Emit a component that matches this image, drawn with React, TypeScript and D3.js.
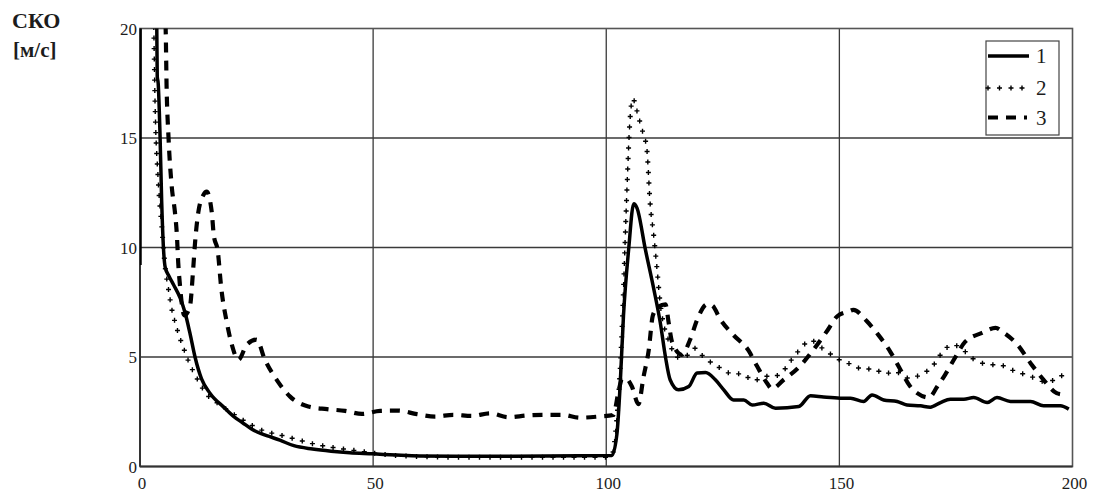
import React, { useEffect, useRef } from "react";
import * as d3 from "d3";

// axis ticks
const xTicks = [0, 50, 100, 150, 200];
const yTicks = [0, 5, 10, 15, 20];
const legendNames = ["1", "2", "3"];

// series 1 (solid)
const series1: [number, number][] = [
  [0, 9.2], [0.2, 80], [3.5, 21], [3.6, 20], [3.7, 17.8], [3.9, 17.5], [4.3, 15.1],
  [4.65, 12.1], [5.0, 10.1], [5.4, 9.1], [6.2, 8.7], [7.2, 8.3], [8.6, 7.7],
  [9.7, 7.0], [10.7, 6.1], [11.8, 5.0], [13.2, 4.0], [15, 3.35], [18, 2.7],
  [20, 2.3], [22, 2.0], [24, 1.7], [26, 1.5], [28, 1.35], [30, 1.2], [33, 0.95],
  [37, 0.8], [41, 0.7], [45, 0.63], [50, 0.58], [55, 0.52], [60, 0.48], [80, 0.47],
  [101.2, 0.5], [102.3, 1.5], [103, 3.8], [103.7, 6.9], [104.8, 9.9], [105.9, 12.0],
  [106.6, 11.8], [108.4, 9.9], [110.2, 8.1], [111.6, 6.55], [112.7, 5.0],
  [113.7, 3.96], [115.5, 3.5], [117.7, 3.65], [119.5, 4.27], [121.3, 4.29],
  [123.4, 3.96], [125.2, 3.5], [127.3, 3.04], [129.5, 3.04], [131.3, 2.81],
  [133.8, 2.89], [136.3, 2.66], [141.3, 2.74], [143.8, 3.23], [146.6, 3.17],
  [150.2, 3.12], [152.4, 3.12], [155.2, 2.97], [157, 3.27], [159.5, 3.04],
  [162.4, 2.97], [164.5, 2.81], [167.4, 2.77], [169.5, 2.71], [171.7, 2.92],
  [173.8, 3.07], [176.7, 3.07], [178.8, 3.15], [181.7, 2.92], [183.8, 3.15],
  [186.7, 2.97], [191, 2.97], [193.8, 2.77], [197.4, 2.77], [199.2, 2.62],
];

// series 2 (dotted)
const series2: [number, number][] = [
  [2.9, 21], [3.2, 16.9], [3.9, 13.1], [4.65, 11.0], [5.4, 9.1], [6.1, 8.1],
  [6.8, 7.2], [7.5, 6.6], [8.2, 6.1], [9, 5.6], [9.7, 5.2], [10.7, 4.65],
  [11.8, 4.2], [12.9, 3.75], [14.7, 3.2], [17, 2.85], [20, 2.4], [23, 2.0],
  [26, 1.67], [30.8, 1.4], [37.9, 1.0], [46.5, 0.72], [55, 0.5], [70, 0.42],
  [100, 0.42], [101.2, 0.5], [102.2, 2.0], [103, 4.5], [103.6, 7.5], [104, 10],
  [104.5, 13], [105, 15.5], [105.7, 16.8], [106.5, 16.3], [107.5, 15.5],
  [108.7, 14.5], [109.4, 12.05], [110.2, 10.5], [110.9, 9.0], [111.5, 7.6],
  [112.5, 6.3], [113.7, 5.6], [114.4, 5.2], [115.9, 4.95], [117.5, 5.1],
  [119.1, 5.4], [120.9, 5.0], [122.7, 4.72], [124.8, 4.45], [127, 4.23],
  [129.1, 4.23], [131.6, 3.91], [133.8, 4.11], [136.3, 4.14], [137.7, 4.29],
  [139.3, 4.75], [141.6, 5.36], [143.8, 5.76], [146.6, 5.36], [150.2, 4.85],
  [152.7, 4.65], [155, 4.45], [157.4, 4.45], [159.7, 4.23], [162, 4.34],
  [164.4, 4.04], [166.5, 4.11], [168.7, 4.34], [170.5, 4.72], [172, 5.2],
  [174.4, 5.56], [176.7, 5.3], [178.5, 4.95], [180.6, 4.72], [182.9, 4.65],
  [185.1, 4.6], [187.4, 4.37], [189.4, 4.23], [191.7, 4.06], [193.8, 3.88],
  [196.4, 3.96], [198.7, 4.39],
];

// series 3 (dashed)
const series3: [number, number][] = [
  [5.2, 21], [5.5, 20], [5.7, 17.4], [6.1, 15.1], [6.8, 12.8], [7.5, 11.6],
  [7.9, 10.6], [8.2, 9.3], [8.6, 8.2], [9.5, 6.9], [10.7, 7.3], [11.4, 9.0],
  [11.8, 10.2], [12.5, 11.6], [13.6, 12.4], [14.3, 12.55], [15.4, 11.6],
  [15.8, 10.6], [16.7, 9.8], [17.4, 8.2], [18.6, 6.6], [19.7, 5.56], [21.1, 4.87],
  [22.9, 5.56], [25.0, 5.79], [26.8, 4.87], [29.5, 3.9], [32.2, 3.19],
  [36.1, 2.74], [40.1, 2.62], [44, 2.54], [47.6, 2.4], [51.5, 2.54], [55.4, 2.55],
  [59.4, 2.39], [63.3, 2.28], [67.2, 2.36], [71.2, 2.31], [75.1, 2.43], [79, 2.25],
  [83, 2.33], [86.9, 2.36], [90.5, 2.36], [94.4, 2.23], [98.3, 2.28],
  [101.5, 2.35], [102.7, 3.5], [103.4, 4.0], [104.3, 4.0], [105.5, 3.65],
  [106.9, 2.85], [108, 4.1], [109.1, 5.3], [110, 6.9], [111.2, 7.3], [112.7, 7.4],
  [113.4, 6.55], [114.1, 5.7], [116.2, 5.1], [118, 5.8], [119.5, 6.7],
  [121.6, 7.4], [122.7, 7.35], [124.5, 6.7], [127.3, 6.0], [130.5, 5.3],
  [132.3, 4.6], [134.5, 3.8], [135.5, 3.55], [138, 3.95], [141.6, 4.6],
  [144.5, 5.35], [147.4, 6.2], [149.5, 6.85], [152, 7.08], [153, 7.15],
  [155.9, 6.63], [158.4, 6.0], [160.9, 5.25], [163.1, 4.42], [165.2, 3.65],
  [166.7, 3.35], [169.2, 3.15], [171, 3.65], [172.7, 4.2], [174.9, 5.0],
  [177, 5.7], [180.6, 6.1], [183.5, 6.33], [185.3, 6.1], [188.2, 5.56],
  [191, 4.72], [193.8, 3.96], [196.6, 3.35], [197.5, 3.3],
];

const W = 1096;
const H = 496;
const FONT = "'Liberation Serif', 'Times New Roman', serif";
const INK = "#1c1c1c";

export default function App() {
  const ref = useRef<SVGSVGElement>(null);

  useEffect(() => {
    const svg = d3.select(ref.current);
    svg.selectAll("*").remove();

    const x = d3.scaleLinear().domain([0, 200]).range([140, 1072.5]);
    const y = d3.scaleLinear().domain([0, 20]).range([466.5, 28.5]);

    svg.append("defs").append("clipPath").attr("id", "plot-clip")
      .append("rect")
      .attr("x", x(0)).attr("y", y(20))
      .attr("width", x(200) - x(0)).attr("height", y(0) - y(20));

    // grid
    const grid = svg.append("g");
    grid.selectAll("line.v")
      .data(xTicks.slice(1, -1))
      .enter().append("line")
      .attr("x1", d => x(d)).attr("x2", d => x(d))
      .attr("y1", y(20)).attr("y2", y(0))
      .attr("stroke", "#3a3a3a").attr("stroke-width", 1.3);
    grid.selectAll("line.h")
      .data(yTicks.slice(1, -1))
      .enter().append("line")
      .attr("x1", x(0)).attr("x2", x(200))
      .attr("y1", d => y(d)).attr("y2", d => y(d))
      .attr("stroke", "#3a3a3a").attr("stroke-width", 1.3);

    // frame
    svg.append("rect")
      .attr("x", x(0)).attr("y", y(20))
      .attr("width", x(200) - x(0)).attr("height", y(0) - y(20))
      .attr("fill", "none").attr("stroke", "#555").attr("stroke-width", 1.6);
    svg.append("line")
      .attr("x1", x(0)).attr("x2", x(200)).attr("y1", y(0)).attr("y2", y(0))
      .attr("stroke", "#333").attr("stroke-width", 2);
    svg.append("line")
      .attr("x1", x(0)).attr("x2", x(0)).attr("y1", y(0)).attr("y2", y(20))
      .attr("stroke", "#333").attr("stroke-width", 2);

    // tick labels
    svg.append("g").selectAll("text")
      .data(xTicks)
      .enter().append("text")
      .attr("x", d => x(d) + 2).attr("y", 489)
      .attr("text-anchor", "middle")
      .attr("font-family", FONT).attr("font-size", 17).attr("fill", INK)
      .text(d => d);
    svg.append("g").selectAll("text")
      .data(yTicks)
      .enter().append("text")
      .attr("x", 137).attr("y", d => y(d) + 6)
      .attr("text-anchor", "end")
      .attr("font-family", FONT).attr("font-size", 17).attr("fill", INK)
      .text(d => d);

    // axis title
    svg.append("text")
      .attr("x", 12).attr("y", 28)
      .attr("font-family", FONT).attr("font-size", 22).attr("font-weight", "bold")
      .attr("fill", INK).text("СКО");
    svg.append("text")
      .attr("x", 13).attr("y", 57)
      .attr("font-family", FONT).attr("font-size", 21).attr("font-weight", "bold")
      .attr("fill", INK).text("[м/с]");

    const line = d3.line<[number, number]>()
      .x(d => x(d[0])).y(d => y(d[1]))
      .curve(d3.curveMonotoneX);
    const plot = svg.append("g").attr("clip-path", "url(#plot-clip)");

    // series 3: dashed
    plot.append("path")
      .attr("d", line(series3))
      .attr("fill", "none").attr("stroke", "#000")
      .attr("stroke-width", 4.2).attr("stroke-dasharray", "10 8");

    // series 2: small plus marks sampled along the curve
    const guide = plot.append("path")
      .attr("d", line(series2))
      .attr("fill", "none").attr("stroke", "none");
    const node = guide.node() as SVGPathElement;
    const total = node.getTotalLength();
    const pts: { x: number; y: number }[] = [];
    for (let s = 0; s <= total; s += 10.5) {
      const p = node.getPointAtLength(s);
      pts.push({ x: p.x, y: p.y });
    }
    const marks = plot.append("g").attr("stroke", "#000").attr("stroke-width", 1.4);
    marks.selectAll("path")
      .data(pts)
      .enter().append("path")
      .attr("d", p => `M${p.x - 2.5},${p.y}h5M${p.x},${p.y - 2.5}v5`);

    // series 1: solid
    plot.append("path")
      .attr("d", line(series1))
      .attr("fill", "none").attr("stroke", "#000")
      .attr("stroke-width", 3.5).attr("stroke-linejoin", "round");

    // legend
    const lg = svg.append("g");
    lg.append("rect")
      .attr("x", 986).attr("y", 41).attr("width", 73).attr("height", 94)
      .attr("fill", "#fff").attr("stroke", "#444").attr("stroke-width", 1.2);
    const rows = [56, 88, 117.5];
    legendNames.forEach((name, i) => {
      const yy = rows[i];
      if (i === 0) {
        lg.append("line").attr("x1", 988).attr("x2", 1029).attr("y1", yy).attr("y2", yy)
          .attr("stroke", "#000").attr("stroke-width", 3.5);
      } else if (i === 1) {
        [988, 999.5, 1011, 1022].forEach(px => {
          lg.append("path").attr("d", `M${px - 2.5},${yy}h5M${px},${yy - 2.5}v5`)
            .attr("stroke", "#000").attr("stroke-width", 1.4);
        });
      } else {
        lg.append("line").attr("x1", 988).attr("x2", 1027).attr("y1", yy).attr("y2", yy)
          .attr("stroke", "#000").attr("stroke-width", 4.2).attr("stroke-dasharray", "10 8");
      }
      lg.append("text")
        .attr("x", 1036).attr("y", yy + 7)
        .attr("font-family", FONT).attr("font-size", 21).attr("fill", INK)
        .text(name);
    });
  }, []);

  return (
    <svg
      ref={ref}
      width={W}
      height={H}
      style={{ position: "absolute", left: 0, top: 0, background: "#fff", display: "block" }}
    />
  );
}
